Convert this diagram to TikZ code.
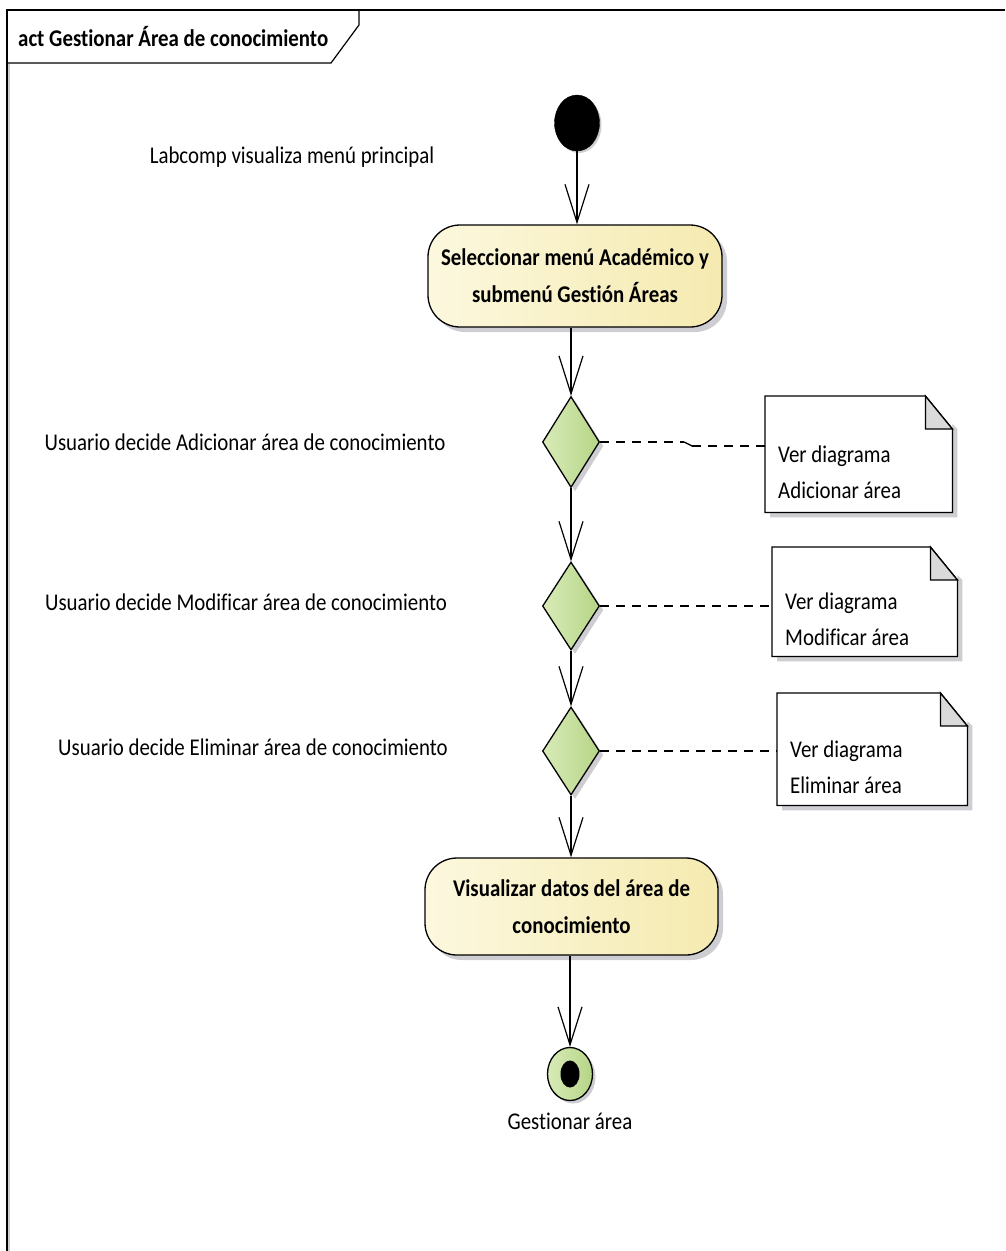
\documentclass[tikz,border=0pt]{standalone}
\usepackage{fontspec}
\setmainfont{Carlito}[FakeStretch=0.87, Ligatures=CommonOff]
\usetikzlibrary{arrows.meta,shapes.geometric,shadows,calc}
\definecolor{yl}{HTML}{FCF8DE}
\definecolor{yd}{HTML}{F5EAB0}
\definecolor{gl}{HTML}{D8EBB8}
\definecolor{gd}{HTML}{B6D586}
\definecolor{foldc}{HTML}{DADADA}
\definecolor{shad}{HTML}{CDCDD2}
\newcommand{\umlnote}[6]{% name, x, y, w, h, text
  \node[notebox, minimum width=#4pt, minimum height=#5pt] (#1) at (#2,#3) {};
  \fill[shad] ([xshift=5pt,yshift=-33pt]#1.north east) -- ([xshift=5pt,yshift=-5pt]#1.south east) -- ([xshift=5pt,yshift=-5pt]#1.south west) -- ([xshift=5pt]#1.south west) -- (#1.south east) -- ([yshift=-28pt]#1.north east) -- cycle;
  \filldraw[line width=1.3pt, fill=white] (#1.north west) -- ([xshift=-27pt]#1.north east) -- ([yshift=-33pt]#1.north east) -- (#1.south east) -- (#1.south west) -- cycle;
  \filldraw[line width=1.3pt, fill=foldc] ([xshift=-27pt]#1.north east) -- ([xshift=-27pt,yshift=-33pt]#1.north east) -- ([yshift=-33pt]#1.north east) -- cycle;
  \node[txt, anchor=west, align=left] at ([xshift=13pt,yshift=-18pt]#1.west) {#6};
}
\begin{document}
\begin{tikzpicture}[x=1pt,y=-1pt,
  txt/.style={font=\fontsize{24}{36}\selectfont, inner sep=0pt},
  act/.style={draw, line width=1.3pt, rounded corners=32pt, left color=yl, right color=yd,
    align=center, font=\bfseries\fontsize{24}{37}\selectfont,
    drop shadow={shadow xshift=5pt, shadow yshift=-5pt, fill=shad, opacity=1}},
  dec/.style={draw, line width=1.3pt, diamond, inner sep=0pt, minimum width=57pt, left color=gl, right color=gd,
    drop shadow={shadow xshift=4pt, shadow yshift=-4pt, fill=shad, opacity=1}},
  notebox/.style={inner sep=0pt, anchor=north west},
  flow/.style={line width=1.2pt, -{Straight Barb[length=38pt, width=24pt, line width=1.2pt]}},
  anchorline/.style={line width=1.4pt, dash pattern=on 9pt off 7pt},
]
\useasboundingbox (0,0) rectangle (1005,1251);

% frame
\draw[shad, line width=2pt] (8.5,64) -- (8.5,1251);
\draw[line width=1.2pt] (1005,10) -- (7,10) -- (7,1251);
\draw[line width=1.2pt] (359,10) -- (359,25) -- (331,63) -- (7,63);
\node[txt, font=\bfseries\fontsize{24}{24}\selectfont, anchor=west] (title) at (18,37) {act Gestionar Área de conocimiento};

% nodes
\node[draw, ellipse, fill=black, minimum width=45pt, minimum height=56pt, inner sep=0pt,
  drop shadow={shadow xshift=2pt, shadow yshift=-2pt, fill=shad, opacity=1}] (init) at (577,123) {};
\node[act, minimum width=294pt, minimum height=102pt] (a1) at (575,276) {Seleccionar menú Académico y\\submenú Gestión Áreas};
\node[dec, minimum height=91pt] (d1) at (571,442) {};
\node[dec, minimum height=88pt] (d2) at (571,606) {};
\node[dec, minimum height=88pt] (d3) at (571,751) {};
\node[act, minimum width=293pt, minimum height=97pt] (a2) at (571.5,906.5) {Visualizar datos del área de\\conocimiento};
\node[draw, line width=1.3pt, ellipse, left color=gl, right color=gd, minimum width=45pt, minimum height=53pt, inner sep=0pt,
  drop shadow={shadow xshift=3pt, shadow yshift=-3pt, fill=shad, opacity=1}] (fin) at (570,1074) {};
\node[ellipse, fill=black, minimum width=19pt, minimum height=27pt, inner sep=0pt] (finin) at (fin.center) {};
\node[txt] (finlabel) at (570,1121) {Gestionar área};

% left labels
\node[txt] (l0) at (292,157) {Labcomp visualiza menú principal};
\node[txt] (l1) at (245,442) {Usuario decide Adicionar área de conocimiento};
\node[txt] (l2) at (246,602) {Usuario decide Modificar área de conocimiento};
\node[txt] (l3) at (253,747) {Usuario decide Eliminar área de conocimiento};

% notes
\umlnote{n1}{765}{396}{187}{116}{Ver diagrama\\Adicionar área}
\umlnote{n2}{772}{547}{185}{109}{Ver diagrama\\Modificar área}
\umlnote{n3}{777}{693}{190}{112}{Ver diagrama\\Eliminar área}

% flows
\draw[flow] (init.south) -- (init.south |- a1.north);
\draw[flow] (d1.north |- a1.south) -- (d1.north);
\draw[flow] (d1.south) -- (d2.north);
\draw[flow] (d2.south) -- (d3.north);
\draw[flow] (d3.south) -- (d3.south |- a2.north);
\draw[flow] (fin.north |- a2.south) -- (fin.north);

% note anchors
\coordinate (j1) at ([xshift=84pt]d1.east);
\coordinate (j2) at ([xshift=92pt,yshift=-4pt]d1.east);
\draw[anchorline] (d1.east) -- (j1);
\draw[line width=1.4pt] (j1) -- (j2);
\draw[anchorline] (j2) -- (j2 -| n1.west);
\draw[anchorline] (d2.east) -- (d2.east -| n2.west);
\draw[anchorline] (d3.east) -- (d3.east -| n3.west);
\end{tikzpicture}
\end{document}
